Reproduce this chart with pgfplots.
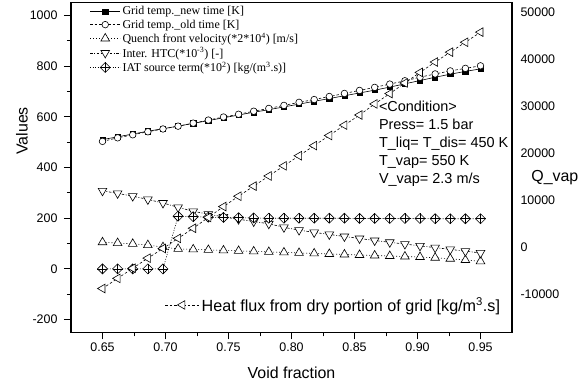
\documentclass[border=0pt]{standalone}
\usepackage{fontspec}
\setmainfont{Liberation Sans}
\newfontfamily\serif{Liberation Serif}
\usepackage{pgfplots}
\usepackage{pgfplotstable}
\pgfplotsset{compat=1.18}

\pgfdeclareplotmark{diamondplus}{%
 \pgfpathmoveto{\pgfqpoint{\pgfplotmarksize}{0pt}}%
 \pgfpathlineto{\pgfqpoint{0pt}{\pgfplotmarksize}}%
 \pgfpathlineto{\pgfqpoint{-\pgfplotmarksize}{0pt}}%
 \pgfpathlineto{\pgfqpoint{0pt}{-\pgfplotmarksize}}%
 \pgfpathclose
 \pgfusepathqfillstroke
 \pgfpathmoveto{\pgfqpoint{\pgfplotmarksize}{0pt}}%
 \pgfpathlineto{\pgfqpoint{-\pgfplotmarksize}{0pt}}%
 \pgfpathmoveto{\pgfqpoint{0pt}{\pgfplotmarksize}}%
 \pgfpathlineto{\pgfqpoint{0pt}{-\pgfplotmarksize}}%
 \pgfusepathqstroke}

\pgfplotstableread{
x new old qv htc iat flux
0.650 510 503 105 308 0 -8700
0.662 521 517 102 298 0 -6550
0.674 532 529 99 287 0 -4400
0.686 543 541 94 274 0 -2250
0.698 553 552 86 260 0 -200
0.710 563 563 79 243 208 1950
0.722 574 575 77 227 206 4100
0.734 585 587 75 216 204 6400
0.746 596 599 73 205 203 8700
0.758 607 610 71 196 202 10900
0.770 618 622 69 187 201 13050
0.782 628 633 67 178 200 15200
0.794 639 645 65 164 200 17350
0.806 650 657 63 153 200 19500
0.818 661 668 61 144 200 21650
0.830 672 680 59 136 200 23800
0.842 683 692 57 128 200 26000
0.854 694 704 55 120 199 28150
0.866 705 716 53 112 199 30500
0.878 717 729 51 105 199 32700
0.890 730 742 49 98 199 34950
0.902 743 756 47 91 199 37200
0.914 756 769 44 84 198 39400
0.926 768 781 40 77 198 41500
0.938 779 791 35 70 198 43600
0.950 789 801 30 63 198 45750
}\data

\begin{document}
\begin{tikzpicture}
\begin{axis}[
  scale only axis, width=441bp, height=329.6bp,
  xmin=0.625, xmax=0.975, ymin=-250, ymax=1050,
  xtick={0.65,0.70,0.75,0.80,0.85,0.90,0.95},
  ytick={-200,0,200,400,600,800,1000},
  minor x tick num=1, minor y tick num=1,
  xtick pos=bottom, ytick pos=left, tick align=outside,
  major tick length=7bp, minor tick length=4bp,
  axis line style={line width=1.1bp},
  every tick/.style={line width=0.9bp, black},
  /pgf/number format/assume math mode=true,
  xticklabel style={/pgf/number format/fixed, /pgf/number format/fixed zerofill, /pgf/number format/precision=2, font=\fontsize{12.5}{14}\selectfont},
  yticklabel style={/pgf/number format/set thousands separator={}, font=\fontsize{12.5}{14}\selectfont, xshift=-3bp},
  xlabel={Void fraction}, ylabel={Values},
  every axis x label/.style={at={(axis description cs:0.5,-0.1235)}, anchor=center, font=\fontsize{16}{18}\selectfont},
  every axis y label/.style={at={(axis description cs:-0.111,0.611)}, rotate=90, anchor=center, font=\fontsize{16}{18}\selectfont},
  legend image code/.code={%
    \draw[mark repeat=2,mark phase=2,#1] plot coordinates {(0bp,0bp) (15bp,0bp) (30bp,0bp)};},
  legend style={at={(axis description cs:0.0425,0.995)}, anchor=north west, draw=none, fill=none, inner sep=0pt,
    font=\serif\fontsize{12}{14}\selectfont, row sep=-0.6bp,
    cells={anchor=west}, nodes={inner sep=2bp}},
]
\addplot[black, line width=0.6bp, mark=square*, mark size=2.6bp, mark options={solid, fill=black}] table[x=x,y=new]{\data};
\addlegendentry{Grid temp.\_new time [K]}
\addplot[black, line width=0.6bp, dash pattern=on 2.5bp off 2bp, mark=*, mark size=3.3bp, mark options={solid, fill=white}] table[x=x,y=old]{\data};
\addlegendentry{Grid temp.\_old time [K]}
\addplot[black, line width=0.6bp, dash pattern=on 1bp off 2bp, mark=triangle*, mark size=5bp, mark options={solid, fill=white}] table[x=x,y=qv]{\data};
\addlegendentry{Quench front velocity(*2*10\textsuperscript{4}) [m/s]}
\addplot[black, line width=0.6bp, dash pattern=on 2.5bp off 1.5bp on 1bp off 1.5bp, mark=triangle*, mark size=5bp, mark options={solid, fill=white, rotate=180}] table[x=x,y=htc]{\data};
\addlegendentry{Inter. HTC(*10\textsuperscript{-3}) [-]}
\addplot[black, line width=0.6bp, dash pattern=on 1bp off 1.5bp, mark=diamondplus, mark size=5bp, mark options={solid, fill=white}] table[x=x,y=iat]{\data};
\addlegendentry{IAT source term(*10\textsuperscript{2}) [kg/(m\textsuperscript{3}.s)]}
\node[anchor=north west, inner sep=0pt, align=left, font=\fontsize{14.5}{18}\selectfont] at (rel axis cs:0.698,0.702)
 {<Condition>\\Press= 1.5 bar\\T\_liq= T\_dis= 450 K\\T\_vap= 550 K\\V\_vap= 2.3 m/s};
\end{axis}
\begin{axis}[
  scale only axis, width=441bp, height=329.6bp,
  xmin=0.625, xmax=0.975, ymin=-18000, ymax=52000,
  axis x line=none, axis y line*=right,
  axis line style={line width=1.1bp},
  ytick={-10000,0,10000,20000,30000,40000,50000},
  scaled y ticks=false,
  major tick length=0bp, minor tick length=0bp,
  /pgf/number format/assume math mode=true,
  yticklabel style={/pgf/number format/set thousands separator={}, font=\fontsize{12.5}{14}\selectfont, xshift=5bp},
  ylabel={Q\_vap},
  every axis y label/.style={at={(axis description cs:1.036,0.468)}, anchor=west, font=\fontsize{16}{18}\selectfont},
  legend image code/.code={%
    \draw[mark repeat=2,mark phase=2,#1] plot coordinates {(0bp,0bp) (17bp,0bp) (34bp,0bp)};},
  legend style={at={(axis description cs:0.213,0.083)}, anchor=west, draw=none, fill=none, inner sep=0pt,
    font=\fontsize{16.2}{18}\selectfont, nodes={inner sep=2bp}},
]
\addplot[black, line width=0.6bp, dash pattern=on 2.5bp off 2bp, mark=triangle*, mark size=5bp, mark options={solid, fill=white, rotate=90}] table[x=x,y=flux]{\data};
\addlegendentry{Heat flux from dry portion of grid [kg/m\textsuperscript{3}.s]}
\end{axis}
\pgfresetboundingbox
\path (-71bp,-54.7bp) rectangle (515bp,332.3bp);
\end{tikzpicture}
\end{document}
